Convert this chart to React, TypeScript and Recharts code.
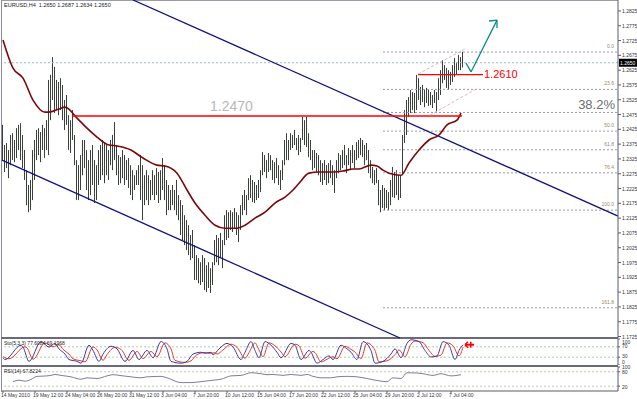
import React from 'react'
import { Bar, ComposedChart, Line, LineChart, ReferenceLine, XAxis, YAxis } from 'recharts'

// EURUSD H4 bars (high / low per bar)
const highs = [
  1.2440, 1.2372, 1.2379, 1.2355, 1.2406, 1.2412, 1.2389, 1.2429, 1.2440, 1.2446,
  1.2406, 1.2355, 1.2287, 1.2237, 1.2254, 1.2355, 1.2389, 1.2423, 1.2429, 1.2416,
  1.2440, 1.2429, 1.2456, 1.2592, 1.2609, 1.2669, 1.2636, 1.2592, 1.2585, 1.2598,
  1.2575, 1.2524, 1.2541, 1.2473, 1.2456, 1.2490, 1.2406, 1.2321, 1.2304, 1.2338,
  1.2389, 1.2389, 1.2355, 1.2321, 1.2355, 1.2372, 1.2321, 1.2304, 1.2355, 1.2372,
  1.2389, 1.2382, 1.2372, 1.2355, 1.2389, 1.2406, 1.2450, 1.2372, 1.2338, 1.2331,
  1.2355, 1.2338, 1.2321, 1.2328, 1.2304, 1.2287, 1.2270, 1.2287, 1.2304, 1.2338,
  1.2304, 1.2270, 1.2287, 1.2270, 1.2254, 1.2287, 1.2270, 1.2294, 1.2281, 1.2287,
  1.2328, 1.2304, 1.2254, 1.2237, 1.2220, 1.2237, 1.2220, 1.2254, 1.2203, 1.2186,
  1.2169, 1.2135, 1.2118, 1.2101, 1.2068, 1.2085, 1.2034, 1.2000, 1.1990, 1.1976,
  1.2000, 1.1990, 1.1966, 1.1976, 1.1956, 1.1976, 1.2051, 1.2068, 1.2058, 1.2075,
  1.2051, 1.2135, 1.2152, 1.2145, 1.2152, 1.2145, 1.2159, 1.2145, 1.2135, 1.2169,
  1.2203, 1.2220, 1.2203, 1.2260, 1.2270, 1.2254, 1.2247, 1.2237, 1.2254, 1.2287,
  1.2348, 1.2338, 1.2321, 1.2345, 1.2338, 1.2321, 1.2314, 1.2328, 1.2304, 1.2287,
  1.2321, 1.2389, 1.2412, 1.2389, 1.2412, 1.2406, 1.2423, 1.2396, 1.2406, 1.2396,
  1.2467, 1.2456, 1.2467, 1.2412, 1.2389, 1.2355, 1.2355, 1.2345, 1.2338, 1.2321,
  1.2311, 1.2321, 1.2304, 1.2311, 1.2321, 1.2304, 1.2287, 1.2321, 1.2345, 1.2338,
  1.2355, 1.2372, 1.2338, 1.2362, 1.2355, 1.2372, 1.2355, 1.2382, 1.2389, 1.2396,
  1.2389, 1.2372, 1.2379, 1.2355, 1.2321, 1.2298, 1.2287, 1.2294, 1.2254, 1.2220,
  1.2237, 1.2227, 1.2220, 1.2213, 1.2254, 1.2298, 1.2281, 1.2287, 1.2270, 1.2270,
  1.2406, 1.2490, 1.2524, 1.2534, 1.2558, 1.2551, 1.2548, 1.2609, 1.2598, 1.2568,
  1.2575, 1.2558, 1.2565, 1.2558, 1.2551, 1.2541, 1.2558, 1.2551, 1.2598, 1.2625,
  1.2659, 1.2642, 1.2632, 1.2625, 1.2619, 1.2642, 1.2666, 1.2652, 1.2676, 1.2669,
  1.2687,
]
const lows = [
  1.2321, 1.2281, 1.2294, 1.2260, 1.2304, 1.2321, 1.2314, 1.2328, 1.2355, 1.2321,
  1.2294, 1.2254, 1.2169, 1.2145, 1.2152, 1.2186, 1.2254, 1.2321, 1.2338, 1.2314,
  1.2355, 1.2328, 1.2355, 1.2338, 1.2456, 1.2524, 1.2480, 1.2490, 1.2473, 1.2490,
  1.2456, 1.2423, 1.2440, 1.2355, 1.2345, 1.2389, 1.2304, 1.2186, 1.2186, 1.2220,
  1.2270, 1.2294, 1.2220, 1.2186, 1.2203, 1.2237, 1.2176, 1.2186, 1.2237, 1.2254,
  1.2270, 1.2243, 1.2270, 1.2254, 1.2304, 1.2287, 1.2321, 1.2270, 1.2237, 1.2243,
  1.2260, 1.2237, 1.2254, 1.2227, 1.2203, 1.2186, 1.2220, 1.2237, 1.2237, 1.2186,
  1.2118, 1.2169, 1.2186, 1.2169, 1.2186, 1.2203, 1.2186, 1.2203, 1.2176, 1.2186,
  1.2220, 1.2186, 1.2135, 1.2152, 1.2152, 1.2169, 1.2152, 1.2135, 1.2118, 1.2068,
  1.2051, 1.2034, 1.2017, 1.2000, 1.1983, 1.1990, 1.1916, 1.1916, 1.1905, 1.1899,
  1.1909, 1.1882, 1.1875, 1.1889, 1.1872, 1.1899, 1.1966, 1.1976, 1.1966, 1.1990,
  1.1956, 1.2034, 1.2051, 1.2058, 1.2085, 1.2078, 1.2091, 1.2068, 1.2044, 1.2085,
  1.2135, 1.2152, 1.2135, 1.2186, 1.2193, 1.2179, 1.2176, 1.2186, 1.2193, 1.2213,
  1.2270, 1.2281, 1.2260, 1.2281, 1.2287, 1.2254, 1.2243, 1.2260, 1.2237, 1.2220,
  1.2254, 1.2304, 1.2321, 1.2321, 1.2355, 1.2362, 1.2372, 1.2355, 1.2338, 1.2348,
  1.2389, 1.2372, 1.2365, 1.2331, 1.2321, 1.2287, 1.2294, 1.2281, 1.2270, 1.2247,
  1.2237, 1.2254, 1.2237, 1.2243, 1.2260, 1.2237, 1.2210, 1.2260, 1.2277, 1.2287,
  1.2294, 1.2304, 1.2277, 1.2304, 1.2287, 1.2311, 1.2294, 1.2321, 1.2328, 1.2338,
  1.2331, 1.2304, 1.2321, 1.2277, 1.2260, 1.2243, 1.2237, 1.2243, 1.2169, 1.2145,
  1.2159, 1.2152, 1.2159, 1.2152, 1.2169, 1.2196, 1.2193, 1.2203, 1.2186, 1.2193,
  1.2270, 1.2379, 1.2406, 1.2467, 1.2480, 1.2490, 1.2480, 1.2490, 1.2524, 1.2507,
  1.2517, 1.2500, 1.2514, 1.2504, 1.2507, 1.2497, 1.2514, 1.2480, 1.2524, 1.2541,
  1.2581, 1.2592, 1.2565, 1.2558, 1.2575, 1.2585, 1.2602, 1.2609, 1.2625, 1.2625,
  1.2634,
]

// moving average, [bar, value]
const maPoints: [number, number][] = [
  [0, 1.2727], [5, 1.2632], [10, 1.2598], [15, 1.2524], [21, 1.2483], [23, 1.2483],
  [28, 1.2494], [31, 1.2500], [37, 1.2463], [42, 1.2429], [47, 1.2399], [53, 1.2372],
  [57, 1.2369], [64, 1.2355], [70, 1.2328], [77, 1.2304], [81, 1.2301], [87, 1.2277],
  [92, 1.2220], [96, 1.2176], [101, 1.2135], [106, 1.2101], [111, 1.2091], [117, 1.2091],
  [121, 1.2101], [126, 1.2125], [131, 1.2145], [136, 1.2176], [141, 1.2196], [145, 1.2220],
  [148, 1.2243], [153, 1.2277], [158, 1.2281], [165, 1.2281], [170, 1.2284], [175, 1.2291],
  [178, 1.2291], [184, 1.2304], [187, 1.2301], [190, 1.2287], [193, 1.2277], [199, 1.2270],
  [203, 1.2311], [208, 1.2355], [213, 1.2389], [218, 1.2406], [222, 1.2440], [227, 1.2456],
  [229, 1.2480],
]

const stochMain: [number, number][] = [
  [0, 28], [1, 21], [9, 76], [10, 69], [13, 14], [19, 90], [23, 69], [26, 83], [28, 62],
  [31, 42], [33, 21], [37, 14], [39, 7], [43, 76], [45, 56], [48, 14], [50, 42], [54, 72],
  [57, 62], [61, 14], [65, 56], [68, 21], [72, 56], [75, 28], [79, 90], [82, 62], [84, 14],
  [89, 7], [92, 14], [95, 42], [99, 49], [101, 45], [104, 49], [105, 39], [108, 62],
  [112, 83], [115, 69], [119, 21], [121, 49], [124, 90], [126, 56], [128, 28], [131, 90],
  [134, 76], [137, 49], [139, 28], [144, 83], [146, 76], [149, 21], [153, 56], [154, 49],
  [157, 7], [160, 21], [163, 35], [165, 21], [169, 76], [172, 62], [174, 49], [177, 21],
  [180, 90], [184, 56], [186, 7], [190, 14], [194, 42], [196, 62], [199, 28], [202, 83],
  [204, 97], [208, 90], [211, 56], [214, 31], [217, 35], [220, 90], [223, 76], [226, 21],
  [228, 56], [230, 78],
]
const stochSignal: [number, number][] = [
  [0, 32], [3, 24], [11, 70], [12, 66], [15, 22], [21, 85], [25, 70], [28, 78], [30, 60],
  [33, 42], [35, 24], [39, 16], [41, 12], [45, 70], [47, 58], [50, 18], [52, 40], [56, 68],
  [59, 60], [63, 18], [67, 52], [70, 25], [74, 52], [77, 32], [81, 85], [84, 62], [86, 18],
  [91, 10], [94, 16], [97, 40], [101, 48], [103, 45], [106, 47], [107, 42], [110, 58],
  [114, 80], [117, 68], [121, 26], [123, 48], [126, 85], [128, 58], [130, 32], [133, 85],
  [136, 74], [139, 50], [141, 32], [146, 80], [148, 74], [151, 26], [155, 52], [156, 48],
  [159, 12], [162, 22], [165, 32], [167, 24], [171, 72], [174, 60], [176, 50], [179, 24],
  [182, 85], [186, 56], [188, 12], [192, 16], [196, 40], [198, 58], [201, 32], [204, 80],
  [206, 92], [210, 86], [213, 56], [216, 33], [219, 38], [222, 85], [225, 74], [228, 35],
  [230, 69],
]
const rsiPoints: [number, number][] = [
  [5, 39], [8, 45], [11, 41], [14, 48], [17, 61], [20, 62], [24, 65], [26, 69], [29, 65],
  [34, 59], [39, 49], [42, 55], [47, 52], [52, 63], [55, 68], [59, 64], [64, 59], [69, 55],
  [72, 59], [79, 61], [82, 55], [89, 35], [94, 35], [99, 39], [105, 45], [109, 49],
  [114, 63], [119, 65], [124, 76], [129, 72], [132, 68], [135, 69], [140, 65], [144, 69],
  [149, 65], [152, 69], [155, 61], [159, 55], [164, 55], [167, 59], [172, 61], [177, 59],
  [182, 52], [189, 41], [192, 39], [195, 55], [199, 52], [202, 76], [207, 75], [210, 72],
  [215, 65], [219, 72], [224, 63], [227, 65], [229, 68],
]

const priceTicks = [
  1.1725, 1.1775, 1.1825, 1.1875, 1.1925, 1.1975, 1.2025, 1.2075, 1.2125, 1.2175, 1.2225,
  1.2275, 1.2325, 1.2375, 1.2425, 1.2475, 1.2525, 1.2575, 1.2625, 1.2675, 1.2725, 1.2775,
  1.2825,
]
const stochTicks = [0, 30, 70, 100]
const rsiTicks = [20, 80, 100]
const timeTicks = [0, 16, 32, 48, 64, 80, 96, 112, 128, 144, 160, 176, 192, 208, 224]
const timeLabels = [
  '14 May 2010', '19 May 12:00', '24 May 04:00', '26 May 20:00', '31 May 12:00',
  '3 Jun 04:00', '7 Jun 20:00', '10 Jun 12:00', '15 Jun 04:00', '17 Jun 20:00',
  '22 Jun 12:00', '25 Jun 04:00', '29 Jun 20:00', '2 Jul 12:00', '7 Jul 04:00',
]

const fibLevels: [string, number][] = [
  ['0.0', 1.2686], ['23.6', 1.2560], ['38.2', 1.2482], ['50.0', 1.2419],
  ['61.8', 1.2356], ['76.4', 1.2278], ['100.0', 1.2152], ['161.8', 1.1822],
]
const fibFrom = 190
const lastPrice = 1.265
const support = 1.247
const breakout = 1.261

// drawn objects as [bar, price] pairs
const channelUpper: [number, number][] = [[65, 1.2862], [307.5, 1.2132]]
const channelLower: [number, number][] = [[-0.5, 1.2321], [198.5, 1.172]]
const supportSpan = [34.5, 229.5]
const breakoutSpan = [207.5, 240]
const flagUpper: [number, number][] = [[207.5, 1.2612], [232, 1.27]]
const flagLower: [number, number][] = [[213.5, 1.2473], [237.5, 1.2565]]
const arrowPath: [number, number][] = [[231.5, 1.2649], [234, 1.2619], [247, 1.2794]]
const arrowHead: [number, number][] = [[243, 1.2791], [247, 1.2794], [247, 1.2767]]

const X_DOMAIN: [number, number] = [-0.5, 307.5]
const FONT = 'Liberation Sans, Arial, sans-serif'
const AXIS = '#5a5a6e'

const lookup = (pts: [number, number][]) => new Map(pts.map(([i, v]) => [i, v]))
const maMap = lookup(maPoints)
const rows = highs.map((h, i) => ({ i, range: [lows[i], h], ma: maMap.get(i) ?? null }))
const mainMap = lookup(stochMain)
const sigMap = lookup(stochSignal)
const rsiMap = lookup(rsiPoints)
const oscRows = highs.map((_, i) => ({
  i,
  main: mainMap.get(i) ?? null,
  signal: sigMap.get(i) ?? null,
  rsi: rsiMap.get(i) ?? null,
}))

const seg = (pts: [number, number][]) => pts.map(([x, y]) => ({ x, y }))

function PriceTick(props: any) {
  const { x, y, payload } = props
  return (
    <text x={x} y={y} dy={2} fontSize={5} fill="#333" fontFamily={FONT}>
      {payload.value.toFixed(4)}
    </text>
  )
}

// labels at the panel edges sit inside the panel, as in the terminal
const stochShift: Record<number, number> = { 100: 4.5, 70: 1.5, 30: 0.8, 0: -1.5 }
function StochTick(props: any) {
  const { x, y, payload } = props
  return (
    <text x={x} y={y} dy={stochShift[payload.value]} fontSize={5} fill="#333" fontFamily={FONT}>
      {payload.value}
    </text>
  )
}

function RsiTick(props: any) {
  const { x, y, payload } = props
  const dy = payload.value === 100 ? 2 : 2.5
  return (
    <text x={x} y={y} dy={dy} fontSize={5} fill="#333" fontFamily={FONT}>
      {payload.value}
    </text>
  )
}

function TimeTick(props: any) {
  const { x, y, payload } = props
  const idx = timeTicks.indexOf(payload.value)
  return (
    <text x={x - 2} y={y} dy={3} fontSize={5} fill="#333" fontFamily={FONT}>
      {timeLabels[idx]}
    </text>
  )
}

function HLBar(props: any) {
  const { x, y, width, height } = props
  if (y == null || height == null) return null
  const top = Math.min(y, y + height)
  return <rect x={Math.round(x + width / 2 - 0.5)} y={top} width={1} height={Math.abs(height)} fill="#3a403a" />
}

export default function App() {
  return (
    <div style={{ position: 'absolute', left: 0, top: 0, width: 637, height: 399, background: '#fff', fontFamily: FONT }}>
      {/* frame */}
      <div style={{ position: 'absolute', left: 1, top: 0, width: 617, height: 1, background: '#9a9aa8' }} />
      <div style={{ position: 'absolute', left: 1, top: 0, width: 1, height: 392, background: '#8a8a98' }} />
      <div style={{ position: 'absolute', left: 1, top: 337, width: 617, height: 2, background: '#6a6a7a' }} />
      <div style={{ position: 'absolute', left: 1, top: 365, width: 617, height: 2, background: '#6a6a7a' }} />

      <div style={{ position: 'absolute', left: 0, top: 0 }}>
        <ComposedChart width={637} height={339} data={rows} margin={{ top: 0, right: 0, bottom: 1, left: 2 }}>
          <XAxis type="number" dataKey="i" domain={X_DOMAIN} hide allowDataOverflow />
          <YAxis
            orientation="right"
            width={19}
            domain={[1.172, 1.2862]}
            allowDataOverflow
            ticks={priceTicks}
            interval={0}
            tickSize={3}
            tickMargin={1}
            stroke={AXIS}
            tick={<PriceTick />}
          />
          <ReferenceLine y={lastPrice} stroke="#9fbcc6" strokeDasharray="2 2"
            label={(p: any) => {
              const vb = p.viewBox
              const rx = vb.x + vb.width
              return (
                <g>
                  <rect x={rx + 1} y={vb.y - 4} width={18} height={8} fill="#000" />
                  <text x={rx + 2} y={vb.y + 2} fontSize={5} fill="#fff" fontFamily={FONT}>1.2650</text>
                </g>
              )
            }}
          />
          {fibLevels.map(([name, v]) => (
            <ReferenceLine
              key={name}
              ifOverflow="visible"
              segment={[{ x: fibFrom, y: v }, { x: X_DOMAIN[1], y: v }]}
              stroke="#9a9aa8"
              strokeDasharray="2 2"
              label={
                name === '38.2'
                  ? { value: '38.2%', position: 'insideBottomRight', offset: 3, fontSize: 13, fill: '#6e6e6e', fontFamily: FONT }
                  : { value: name, position: 'insideBottomRight', offset: 4, fontSize: 5, fill: '#9a8a66', fontFamily: FONT }
              }
            />
          ))}
          <ReferenceLine ifOverflow="visible" segment={seg(channelUpper)} stroke="#101080" strokeWidth={1.3} />
          <ReferenceLine ifOverflow="visible" segment={seg(channelLower)} stroke="#101080" strokeWidth={1.3} />
          <Bar dataKey="range" barSize={1} shape={<HLBar />} isAnimationActive={false} />
          <Line dataKey="ma" type="monotone" connectNulls dot={false} stroke="#7a0a0a" strokeWidth={1.6} isAnimationActive={false} />
          <ReferenceLine
            ifOverflow="visible"
            segment={[{ x: supportSpan[0], y: support }, { x: supportSpan[1], y: support }]}
            stroke="#ff0000"
            strokeWidth={1.4}
            label={(p: any) => (
              <text x={p.viewBox.x + 138} y={p.viewBox.y - 5} fontSize={14} fill="#b8b8b8" fontFamily={FONT}>1.2470</text>
            )}
          />
          <ReferenceLine
            ifOverflow="visible"
            segment={[{ x: breakoutSpan[0], y: breakout }, { x: breakoutSpan[1], y: breakout }]}
            stroke="#ff0000"
            strokeWidth={1.4}
            label={{ value: '1.2610', position: 'right', offset: 1, fontSize: 11, fill: '#ff0000', fontFamily: FONT }}
          />
          <ReferenceLine ifOverflow="visible" segment={seg(flagUpper)} stroke="#d8b8c0" strokeDasharray="3 2" />
          <ReferenceLine ifOverflow="visible" segment={seg(flagLower)} stroke="#d8b8c0" strokeDasharray="3 2" />
          <ReferenceLine ifOverflow="visible" segment={seg(arrowPath.slice(0, 2))} stroke="#0a8a8a" strokeWidth={1.3} />
          <ReferenceLine ifOverflow="visible" segment={seg(arrowPath.slice(1, 3))} stroke="#0a8a8a" strokeWidth={1.3} />
          <ReferenceLine ifOverflow="visible" segment={seg(arrowHead.slice(0, 2))} stroke="#0a8a8a" strokeWidth={1.3} />
          <ReferenceLine ifOverflow="visible" segment={seg(arrowHead.slice(1, 3))} stroke="#0a8a8a" strokeWidth={1.3} />
        </ComposedChart>
      </div>
      <div style={{ position: 'absolute', left: 4, top: 2, fontSize: 5.5, color: '#222', whiteSpace: 'pre' }}>
        {'EURUSD,H4  1.2650 1.2687 1.2634 1.2650'}
      </div>

      {/* stochastic, plot area 339..365 */}
      <div style={{ position: 'absolute', left: 0, top: 336 }}>
        <LineChart width={637} height={29} data={oscRows} margin={{ top: 3, right: 0, bottom: 0, left: 2 }}>
          <XAxis type="number" dataKey="i" domain={X_DOMAIN} hide allowDataOverflow />
          <YAxis orientation="right" width={19} domain={[0, 100]} ticks={stochTicks} interval={0}
            tickSize={2} tickMargin={2} stroke={AXIS} tick={<StochTick />} />
          <ReferenceLine y={70} stroke="#b8c8b8" strokeDasharray="2 2" />
          <ReferenceLine y={30} stroke="#b8c8b8" strokeDasharray="2 2" />
          <Line dataKey="signal" type="monotone" connectNulls dot={false} stroke="#f03a1a" strokeWidth={1} isAnimationActive={false} />
          <Line dataKey="main" type="monotone" connectNulls dot={false} stroke="#3a3ab4" strokeWidth={1} isAnimationActive={false} />
          <ReferenceLine ifOverflow="visible" segment={[{ x: 231, y: 78 }, { x: 235.5, y: 78 }]} stroke="#ff0000" strokeWidth={2}
            label={(p: any) => (
              <g>
                <path d={`M${p.viewBox.x} ${p.viewBox.y} l3 -3 M${p.viewBox.x} ${p.viewBox.y} l3 3`} stroke="#ff0000" strokeWidth={1.5} />
                <rect x={p.viewBox.x + 5} y={p.viewBox.y - 3} width={1.5} height={6} fill="#ff0000" />
              </g>
            )}
          />
        </LineChart>
      </div>
      <div style={{ position: 'absolute', left: 4, top: 340, fontSize: 5, color: '#222', whiteSpace: 'pre' }}>
        {'Sto(5,3,3) 77.6084 69.1968'}
      </div>

      {/* RSI, plot area 367..391 */}
      <div style={{ position: 'absolute', left: 0, top: 364 }}>
        <LineChart width={637} height={35} data={oscRows} margin={{ top: 3, right: 0, bottom: 0, left: 2 }}>
          <XAxis type="number" dataKey="i" domain={X_DOMAIN} allowDataOverflow height={8} ticks={timeTicks}
            interval={0} tickSize={2} tickMargin={1} stroke={AXIS} tick={<TimeTick />} />
          <YAxis orientation="right" width={19} domain={[0, 100]} ticks={rsiTicks} interval={0}
            tickSize={2} tickMargin={2} stroke={AXIS} tick={<RsiTick />} />
          <ReferenceLine y={80} stroke="#c8c8a8" strokeDasharray="2 2" />
          <ReferenceLine y={20} stroke="#c8c8a8" strokeDasharray="2 2" />
          <Line dataKey="rsi" type="monotone" connectNulls dot={false} stroke="#7e7ea2" strokeWidth={1} isAnimationActive={false} />
        </LineChart>
      </div>
      <div style={{ position: 'absolute', left: 4, top: 368, fontSize: 5, color: '#222', whiteSpace: 'pre' }}>
        {'RSI(14) 67.8224'}
      </div>
    </div>
  )
}
